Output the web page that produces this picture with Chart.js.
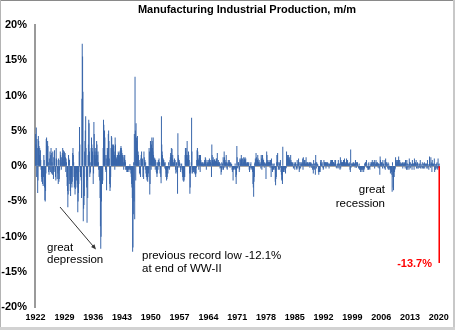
<!DOCTYPE html>
<html>
<head>
<meta charset="utf-8">
<style>
  html, body { margin: 0; padding: 0; background: #fff; }
  #wrap { position: relative; width: 455px; height: 330px; }
  canvas { display: block; }
</style>
<script src="https://cdn.jsdelivr.net/npm/chart.js@4.4.1/dist/chart.umd.min.js"></script>
</head>
<body>
<div id="wrap"><canvas id="chart" width="455" height="330" style="width:455px;height:330px"></canvas></div>
<script>
// Manufacturing industrial production, m/m % change, monthly from Jan 1922
// values, one row per year (Jan..Dec)

const startYear = 1922;

const d1920s = [
  4.5, 3.0, 5.4, -1.5, 3.8, 2.5, -3.8, -2.0, 4.2, 3.5, 2.8, 1.5,   // 1922
  2.5, 1.0, 2.2, 0.8, -0.5, -1.5, -2.2, -1.8, -2.5, -1.0, -2.8, -1.5, // 1923
  1.5, 0.8, -3.0, -4.8, -5.0, -3.5, -1.0, 3.8, 4.0, 2.5, 3.0, 3.5,  // 1924
  2.8, 0.5, -0.8, -1.2, 1.0, -0.5, 2.0, -0.8, 1.5, 2.5, -1.0, 1.8,  // 1925
  0.5, -1.2, 2.0, -0.5, -1.8, 1.2, -0.8, 2.2, 1.0, -0.6, -1.5, -2.0, // 1926
  2.5, 1.0, 0.8, -1.8, -0.5, -1.0, -2.5, 1.0, -2.2, -1.8, -0.6, 0.8, // 1927
  2.0, 1.5, 0.5, -0.5, 1.2, 0.8, 1.8, 2.5, 1.0, 2.2, 0.5, 1.5,      // 1928
  2.0, 0.5, 1.8, 1.2, -0.8, 1.0, 0.5, -1.5, -2.8, -3.5, -5.8, -4.0  // 1929
];

const d1930s = [
  1.5, 1.0, -2.5, 0.8, -2.0, -3.5, -4.2, -1.5, -1.2, -2.5, -3.0, -2.2, // 1930
  1.8, 2.5, 1.5, 0.5, -1.5, -3.0, -2.5, -4.0, -3.2, -2.0, -1.5, -1.0,  // 1931
  -2.0, -3.0, -2.5, -6.5, -5.0, -3.8, -2.5, 2.0, 5.5, 3.0, -0.8, -1.5, // 1932
  -0.5, -2.0, -4.5, 9.5, 17.3, 15.5, 10.5, -7.8, -6.0, -5.5, -4.2, 2.0, // 1933
  3.5, 5.0, 7.0, 2.5, -1.5, -3.0, -8.0, -2.0, -4.5, 1.5, 3.0, 6.5,     // 1934
  6.0, 2.0, -1.5, -1.0, -0.8, 0.5, 2.5, 4.0, 3.0, 2.5, 2.0, 1.5,       // 1935
  -2.5, -1.0, 6.2, 4.5, 1.5, 2.0, 2.5, 1.0, 1.5, 2.0, 3.5, 3.0,        // 1936
  0.5, 1.5, 2.0, 0.5, -0.5, -1.5, -0.5, -2.0, -4.5, -8.5, -11.7, -10.0, // 1937
  -5.0, -2.5, -1.0, -2.5, -2.0, 2.5, 6.5, 5.8, 4.5, 5.0, 4.0, 1.5,     // 1938
  -0.5, -0.8, 1.0, -3.4, 1.5, 2.5, 2.0, 2.5, 4.5, 5.0, 3.5, 1.0        // 1939
];

const d1940s = [
  -2.5, -3.5, -3.0, -1.5, 2.5, 4.2, 4.0, 2.5, 3.0, 2.2, 2.5, 3.0,      // 1940
  2.8, 2.0, 1.5, -0.5, 4.0, 3.0, 1.5, 1.2, 1.0, 0.8, 0.5, 1.5,         // 1941
  1.5, 2.0, 1.8, 1.5, 1.2, 1.5, 2.0, 2.2, 2.5, 2.8, 2.5, 2.2,          // 1942
  1.8, 1.5, 1.5, 1.2, 0.5, -0.5, 1.5, 1.0, 1.5, 0.8, 0.5, -0.5,        // 1943
  -0.5, -0.3, -0.8, -0.5, -0.8, -0.5, -0.5, -0.3, -0.8, -0.5, -0.3, 0.2, // 1944
  -0.5, -0.5, -1.0, -1.5, -2.5, -3.0, -4.5, -12.1, -11.5, -6.8, 0.5, -5.0, // 1945
  4.5, -7.5, 12.6, 5.0, -2.0, 6.0, 4.0, 3.5, 2.5, 4.2, 0.5, 2.0,       // 1946
  1.5, 0.5, 0.8, -1.0, -0.5, -1.2, -1.5, 1.0, 1.5, 2.0, 0.8, 0.5,      // 1947
  1.0, -1.5, -0.5, -1.8, 2.0, 1.2, 0.5, 0.8, -0.5, 0.5, -1.0, -1.5,    // 1948
  -1.5, -2.0, -1.8, -2.2, -1.5, -1.0, -0.5, 2.5, 2.0, -4.0, -2.5, 3.5  // 1949
];

const d1950s = [
  2.5, -0.5, 3.0, 4.0, 3.5, 2.5, 2.0, 4.0, 1.5, 1.2, 0.5, 1.0,         // 1950
  1.0, -0.5, 0.8, 0.5, -0.8, -1.0, -1.5, -1.0, 0.5, -0.5, 0.8, 0.5,    // 1951
  1.0, 0.5, 0.5, -1.0, -0.5, -1.5, -2.4, 7.0, 3.0, 2.0, 1.5, 1.0,      // 1952
  1.0, 0.8, 0.8, 0.5, 0.3, -0.3, 0.5, -0.5, -1.5, -1.0, -2.0, -1.8,    // 1953
  -1.5, -0.5, -1.0, -0.2, 0.5, -0.3, -0.5, -0.2, 0.8, 1.2, 1.8, 1.5,   // 1954
  2.5, 1.5, 2.4, 1.0, 1.5, 0.5, 0.3, 0.5, 0.8, 1.0, 0.5, 0.8,          // 1955
  -0.5, -1.0, 0.2, 0.5, -0.8, -1.0, -3.9, 4.6, 1.5, 1.0, -0.2, 0.8,    // 1956
  0.5, 0.3, -0.2, -0.8, -0.5, 0.2, 0.3, -0.2, -1.0, -1.5, -2.0, -1.5,  // 1957
  -2.2, -2.0, -1.5, -1.5, 1.5, 2.5, 2.0, 2.5, 1.5, 0.5, 3.5, 1.0,      // 1958
  1.5, 1.5, 2.0, 1.5, 0.8, -1.0, -3.9, -3.0, -0.8, -1.0, 0.5, 6.8      // 1959
];

const d1960s = [
  2.0, -0.5, -1.0, -0.8, -0.5, -0.8, -0.5, -0.3, -1.0, -0.8, -1.2, -1.5, // 1960
  -1.0, -0.2, 0.8, 2.2, 2.5, 2.0, 1.0, 0.8, -0.5, 1.5, 1.5, 1.0,       // 1961
  -0.8, 1.5, 0.8, 0.5, 0.3, 0.2, 0.5, 0.3, 0.5, 0.0, 0.3, 0.2,         // 1962
  0.5, 0.8, 0.5, 1.2, 1.0, 0.5, -0.5, 0.2, 0.8, 0.5, 0.3, 0.2,         // 1963
  0.5, 0.8, 0.2, 1.0, 0.8, 0.5, 0.5, 0.8, 0.3, -1.5, 3.0, 1.5,         // 1964
  0.8, 0.5, 1.2, 0.5, 0.8, 0.8, 0.9, 0.3, 0.5, 0.7, 0.5, 1.0,          // 1965
  1.0, 0.5, 1.8, 0.3, 0.5, 0.8, 0.3, 0.5, 0.5, 0.2, -0.3, -0.2,        // 1966
  0.3, -1.2, -0.8, 0.5, -0.5, 0.3, -0.2, 1.2, -0.5, 0.8, 2.0, 1.2,     // 1967
  -0.2, 0.8, 0.5, 0.2, 1.5, 0.5, -0.3, -0.5, 0.3, 0.5, 0.8, 0.2,       // 1968
  0.5, 0.8, 0.5, -0.2, 0.3, 0.5, 0.3, 0.2, 0.2, -0.5, -0.8, -0.3       // 1969
];

const d1970s = [
  -2.0, -0.5, -0.3, -0.5, -0.3, -0.2, 0.3, -0.5, -1.5, -2.5, -1.2, 2.8, // 1970
  1.2, -0.2, -0.3, 0.5, 0.5, 0.2, -0.8, -0.5, 1.0, 0.8, 0.3, 1.0,      // 1971
  1.5, 0.8, 1.0, 1.0, 0.2, 0.3, 0.5, 1.2, 0.8, 1.0, 0.8, 1.2,          // 1972
  0.8, 1.0, 0.3, 0.2, 0.5, 0.3, 0.5, 0.2, 0.5, 0.3, 0.5, -0.5,         // 1973
  -0.8, -0.5, -0.2, 0.2, 0.5, -0.3, -0.2, -0.5, -0.3, -0.8, -2.5, -3.0, // 1974
  -4.3, -2.2, -1.5, 0.3, 0.5, 1.0, 0.8, 1.8, 1.2, 0.3, 0.8, 0.8,       // 1975
  1.5, 1.0, 0.5, 0.5, 0.8, 0.2, 0.3, 0.5, 0.2, -0.3, 1.5, 1.0,         // 1976
  -0.5, 1.5, 1.5, 1.0, 0.8, 0.8, 0.3, -0.2, 0.5, 0.3, 0.2, 0.3,        // 1977
  -1.8, 0.5, 2.0, 1.5, 0.5, 0.8, 0.3, 0.5, 0.5, 0.8, 0.5, 0.5,         // 1978
  -0.2, 0.8, 0.5, -1.5, 1.0, -0.2, -0.5, -0.8, 0.3, 0.2, -0.5, -0.2    // 1979
];

const d1980s = [
  0.3, -0.2, -0.5, -2.2, -2.7, -1.8, -1.5, 0.5, 1.5, 1.5, 1.8, 0.5,    // 1980
  -0.5, -0.3, 0.5, -0.5, 0.3, 0.5, 0.8, -0.2, -0.8, -1.2, -2.0, -1.8,  // 1981
  -2.5, 2.7, -0.8, -0.8, -0.3, -0.5, -0.2, -0.8, -0.5, -1.0, -0.3, -0.2, // 1982
  2.0, 0.3, 1.0, 1.5, 1.2, 0.8, 1.5, 1.0, 1.2, 0.8, 0.5, 0.5,          // 1983
  1.5, 0.8, 0.5, 0.5, 0.3, 0.5, 0.3, 0.2, -0.3, -0.2, 0.5, 0.2,        // 1984
  -0.5, 0.3, 0.5, 0.2, 0.2, -0.3, -0.5, 0.8, 0.2, -0.3, 0.5, 1.0,      // 1985
  0.5, -0.8, -0.5, 0.5, 0.2, -0.3, 0.5, 0.3, 0.2, 0.5, 0.3, 1.0,       // 1986
  -0.5, 1.2, 0.3, 0.5, 0.8, 0.5, 0.8, 0.3, 0.2, 1.2, 0.3, 0.5,         // 1987
  0.2, 0.5, 0.3, 0.5, 0.2, 0.3, 0.2, 0.5, -0.2, 0.5, 0.3, 0.5,         // 1988
  0.3, -0.2, 0.3, 0.2, -0.5, 0.2, -1.0, 0.8, -0.3, -0.5, 0.3, 0.3      // 1989
];

const d1990s = [
  -1.2, 1.5, 0.5, -0.3, 0.5, 0.3, 0.2, 0.2, 0.0, -0.8, -1.2, -0.8,     // 1990
  -0.8, -0.5, -0.8, 0.5, 0.8, 0.8, 0.3, 0.2, 0.5, 0.0, -0.2, -0.5,     // 1991
  -0.3, 0.8, 0.5, 0.5, 0.3, 0.5, 0.5, -0.3, 0.3, 0.5, 0.5, 0.3,        // 1992
  0.5, 0.3, 0.0, 0.3, -0.3, 0.2, 0.3, 0.2, 0.5, 0.8, 0.5, 0.8,         // 1993
  0.2, 0.3, 0.8, 0.5, 0.5, 0.5, 0.3, 0.3, 0.2, 0.8, 0.5, 0.8,          // 1994
  0.2, -0.2, 0.0, -0.3, 0.2, 0.3, -0.2, 0.8, 0.3, -0.3, 0.3, 0.2,      // 1995
  -0.5, 1.2, -0.3, 0.8, 0.5, 0.5, 0.2, 0.5, 0.5, 0.2, 0.8, 0.5,        // 1996
  0.3, 1.0, 0.5, 0.2, 0.3, 0.5, 0.5, 1.0, 0.5, 0.5, 0.8, 0.3,          // 1997
  0.3, 0.2, 0.3, 0.5, 0.2, -0.5, -0.8, 2.3, -0.2, 0.3, 0.0, 0.3,       // 1998
  0.2, 0.3, 0.5, 0.3, 0.5, 0.2, 0.3, 0.3, -0.2, 0.8, 0.5, 0.5          // 1999
];

const d2000s = [
  -0.2, 0.5, 0.3, 0.5, 0.2, 0.0, -0.3, -0.2, 0.3, -0.5, -0.3, -0.5,    // 2000
  -0.8, -0.5, -0.3, -0.5, -0.8, -0.5, -0.2, -0.5, -0.3, -0.8, -0.5, -0.3, // 2001
  0.3, 0.3, 0.5, 0.5, 0.3, 0.8, -0.2, 0.0, -0.2, -0.5, 0.3, -0.5,      // 2002
  0.5, -0.2, -0.3, -0.5, 0.2, 0.0, 0.5, 0.2, 0.5, 0.3, 0.8, 0.0,       // 2003
  0.5, 0.5, 0.2, 0.5, 0.8, -0.3, 0.5, 0.2, 0.2, 0.8, 0.3, 0.5,         // 2004
  0.3, 0.5, 0.2, -0.2, 0.3, 0.3, -0.3, 0.2, -1.2, 1.3, 0.8, 0.3,       // 2005
  0.0, 0.5, 0.2, 0.5, -0.3, 0.8, 0.2, 0.3, 0.2, -0.3, -0.2, 0.8,       // 2006
  -0.5, 1.0, 0.5, 0.5, 0.0, 0.3, 0.2, -0.3, 0.5, -0.5, 0.3, -0.2,      // 2007
  0.0, -0.5, -0.3, -1.0, -0.5, -0.3, -0.8, -1.2, -3.6, 0.5, -1.5, -3.0, // 2008
  -3.4, -0.5, -1.5, -0.8, -0.5, -0.3, 1.2, 0.8, 0.8, 0.2, 0.5, 0.5     // 2009
];

const d2010s = [
  0.8, 0.2, 0.8, 1.3, 0.8, 0.3, 0.8, 0.2, 0.2, 0.5, 0.3, 0.3,          // 2010
  0.2, 0.3, 0.5, -0.3, 0.3, 0.2, 0.5, 0.3, 0.3, 0.5, -0.3, 0.8,        // 2011
  0.8, 0.3, -0.5, 0.8, -0.5, 0.3, -0.2, 0.0, 0.2, -0.5, 1.0, 0.5,      // 2012
  -0.3, 0.5, -0.2, 0.3, 0.2, 0.2, -0.5, 0.8, 0.3, 0.3, 0.3, 0.2,       // 2013
  -0.5, 1.0, 0.5, 0.3, 0.5, 0.3, 0.8, -0.3, 0.3, 0.2, 0.5, -0.3,       // 2014
  -0.3, 0.0, 0.3, 0.2, -0.2, 0.3, 0.8, -0.3, 0.0, 0.2, 0.0, -0.3,      // 2015
  0.5, -0.2, -0.3, 0.3, -0.3, 0.3, 0.5, -0.3, 0.2, 0.3, 0.0, 0.2,      // 2016
  0.3, -0.3, 0.2, 0.8, -0.3, 0.2, 0.0, -0.5, 0.2, 1.3, 0.3, 0.2,       // 2017
  -0.2, 1.2, 0.5, 0.3, -0.8, 0.8, 0.3, 0.3, 0.2, 0.2, 0.3, 1.0,        // 2018
  -0.8, -0.5, 0.2, -0.5, 0.2, 0.3, -0.3, 0.5, -0.3, -0.5, 1.0, -0.2    // 2019
];

const d2020s = [0.2, 0.3, -0.6, -13.7]; // Jan-Apr 2020, April in red

const yearTicks = [1922, 1929, 1936, 1943, 1950, 1957, 1964, 1971, 1978, 1985, 1992, 1999, 2006, 2013, 2020];
const pctTicks = [-20, -15, -10, -5, 0, 5, 10, 15, 20];

const titleText = 'Manufacturing Industrial Production, m/m';

// -------------------------------
// build points
// -------------------------------
const values = [].concat(d1920s, d1930s, d1940s, d1950s, d1960s, d1970s, d1980s, d1990s, d2000s, d2010s, d2020s);
const points = values.map((v, i) => ({ x: startYear + i / 12, y: v }));
const mainPts = points.slice(0, -1);
const lastPts = points.slice(-1);

const FONT = '"Liberation Sans", Arial, sans-serif';

// text, arrow and frame drawn on top
const notesPlugin = {
  id: 'notes',
  afterDraw(chart) {
    const c = chart.ctx;
    c.save();
    c.textBaseline = 'alphabetic';
    c.fillStyle = '#000';

    c.font = 'bold 11px ' + FONT;
    c.textAlign = 'center';
    c.fillText(titleText, 247, 12.5);

    c.font = '11.5px ' + FONT;
    c.textAlign = 'left';
    c.fillText('great', 47, 250.5);
    c.fillText('depression', 47, 262.5);
    c.fillText('previous record low -12.1%', 142, 259);
    c.fillText('at end of WW-II', 142, 271.5);

    c.textAlign = 'right';
    c.fillText('great', 385, 193);
    c.fillText('recession', 385, 206.5);

    c.fillStyle = '#ff0000';
    c.font = 'bold 11px ' + FONT;
    c.fillText('-13.7%', 432, 267);

    // arrow to the 1937 drop
    const x0 = 60, y0 = 207, x1 = 96, y1 = 249.5;
    const a = Math.atan2(y1 - y0, x1 - x0);
    c.strokeStyle = '#333';
    c.lineWidth = 1;
    c.beginPath();
    c.moveTo(x0, y0);
    c.lineTo(x1 - 3 * Math.cos(a), y1 - 3 * Math.sin(a));
    c.stroke();
    c.fillStyle = '#333';
    c.beginPath();
    c.moveTo(x1, y1);
    c.lineTo(x1 - 5 * Math.cos(a) + 2.2 * Math.sin(a), y1 - 5 * Math.sin(a) - 2.2 * Math.cos(a));
    c.lineTo(x1 - 5 * Math.cos(a) - 2.2 * Math.sin(a), y1 - 5 * Math.sin(a) + 2.2 * Math.cos(a));
    c.closePath();
    c.fill();

    // picture frame
    c.fillStyle = '#8a8a8a';
    c.fillRect(0, 0, 455, 1);
    c.fillStyle = '#b4b4b4';
    c.fillRect(0, 0, 1, 330);
    c.fillStyle = '#c8c8c8';
    c.fillRect(453, 0, 2, 330);
    c.fillStyle = '#d2d2d2';
    c.fillRect(0, 327, 455, 3);
    c.restore();
  }
};

Chart.defaults.font.family = FONT;

new Chart(document.getElementById('chart'), {
  type: 'bar',
  data: {
    datasets: [
      {
        data: mainPts,
        backgroundColor: '#3a67ab',
        borderWidth: 0,
        barPercentage: 1,
        categoryPercentage: 1,
        grouped: false,
        order: 2
      },
      {
        data: lastPts,
        backgroundColor: '#ff0000',
        borderWidth: 0,
        barThickness: 2,
        grouped: false,
        order: 1
      }
    ]
  },
  options: {
    responsive: false,
    animation: false,
    events: [],
    devicePixelRatio: 1,
    layout: { padding: { top: 25, right: 15, bottom: 0, left: 0 } },
    plugins: {
      legend: { display: false },
      tooltip: { enabled: false },
      title: { display: false }
    },
    scales: {
      x: {
        type: 'linear',
        min: 1921.85,
        max: 2020.3,
        offset: false,
        grid: { display: false, drawTicks: false, tickLength: 0 },
        border: { display: false },
        afterBuildTicks: s => { s.ticks = yearTicks.map(v => ({ value: v })); },
        afterFit: s => { s.height = 23; },
        ticks: {
          autoSkip: false,
          maxRotation: 0,
          padding: 5,
          color: '#000',
          font: { size: 9, weight: 'bold' },
          callback: v => String(v)
        }
      },
      y: {
        min: -20,
        max: 20,
        afterBuildTicks: s => { s.ticks = pctTicks.map(v => ({ value: v })); },
        afterFit: s => { s.width = 35; },
        grid: {
          drawTicks: false,
          lineWidth: 1,
          color: ctx => (ctx.tick && ctx.tick.value === 0) ? '#a8a8a8' : 'rgba(0,0,0,0)'
        },
        border: { color: '#9a9a9a', width: 2 },
        ticks: {
          padding: 8,
          color: '#000',
          font: { size: 11, weight: 'bold' },
          callback: v => v + '%'
        }
      }
    }
  },
  plugins: [notesPlugin]
});
</script>
</body>
</html>
